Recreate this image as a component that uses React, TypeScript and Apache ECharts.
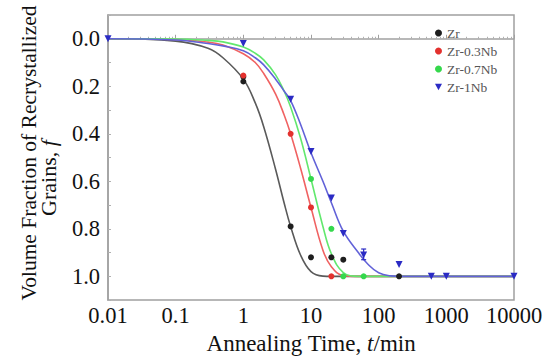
import React, { useEffect, useRef } from "react";
import * as echarts from "echarts";

const seriesNames = ["Zr", "Zr-0.3Nb", "Zr-0.7Nb", "Zr-1Nb"];
const xTickLabels = ["0.01", "0.1", "1", "10", "100", "1000", "10000"];
const yTitleLine1 = "Volume Fraction of Recrystallized";
const yTitleLine2 = "Grains, {i|f}";
const xTitle = "Annealing Time, {i|t}/min";

// measured points [t (min), f]
const zrPoints = [[1, 0.16], [1, 0.18], [5, 0.79], [10, 0.92], [20, 0.92], [30, 0.93], [200, 1.0]];
const nb03Points = [[1, 0.155], [5, 0.4], [10, 0.71], [20, 1.0]];
const nb07Points = [[10, 0.59], [20, 0.8], [30, 1.0], [60, 1.0]];
const nb1Points = [[0.01, 0], [1, 0.02], [5, 0.255], [10, 0.475], [20, 0.67], [30, 0.82], [60, 0.91], [200, 0.95], [600, 1.0], [1000, 1.0], [10000, 1.0]];
const nb1Errors = [[60, 0.885, 0.93]];

// fitted curves
const curveT = [0.01, 0.1, 0.3, 0.5, 1, 1.5, 2, 3, 4, 5, 7, 10, 15, 20, 30, 50, 70, 100, 150, 200, 1000, 10000];
const zrCurve = [0, 0.01, 0.04, 0.08, 0.17, 0.27, 0.37, 0.55, 0.69, 0.79, 0.91, 0.98, 0.999, 1, 1, 1, 1, 1, 1, 1, 1, 1];
const nb03Curve = [0, 0.003, 0.014, 0.026, 0.063, 0.1, 0.146, 0.233, 0.32, 0.4, 0.544, 0.71, 0.89, 0.96, 0.997, 1, 1, 1, 1, 1, 1, 1];
const nb07Curve = [0, 0.001, 0.007, 0.013, 0.035, 0.061, 0.089, 0.152, 0.22, 0.287, 0.418, 0.59, 0.79, 0.905, 0.984, 1, 1, 1, 1, 1, 1, 1];
const nb1Curve = [0, 0.005, 0.02, 0.03, 0.05, 0.08, 0.11, 0.17, 0.22, 0.26, 0.36, 0.48, 0.6, 0.69, 0.81, 0.9, 0.95, 0.985, 0.998, 1, 1, 1];

const pointColors = ["#1e1e1e", "#e3312e", "#35d84c", "#2b2bc4"];
const curveColors = ["#5a5a5a", "#f06262", "#62e86e", "#6262d8"];
const downTriangle = "path://M0,0 L10,0 L5,9 Z";

const FONT = "Liberation Serif";
const italicRich = { i: { fontFamily: FONT, fontSize: 23, fontStyle: "italic", fill: "#111", color: "#111" } };

export default function App() {
  const ref = useRef<HTMLDivElement>(null);
  useEffect(() => {
    if (!ref.current) return;
    const chart = echarts.init(ref.current, null, { renderer: "svg" });
    const points = [zrPoints, nb03Points, nb07Points, nb1Points];
    const curves = [zrCurve, nb03Curve, nb07Curve, nb1Curve];
    const lineSeries = curves.map((c, i) => ({
      type: "line",
      name: seriesNames[i] + " fit",
      data: curveT.map((t, j) => [t, c[j]]),
      showSymbol: false,
      smooth: 0.4,
      lineStyle: { color: curveColors[i], width: 1.6 },
      itemStyle: { color: curveColors[i] },
      z: 2,
      silent: true,
    }));
    const scatterSeries = points.map((p, i) => ({
      type: "scatter",
      name: seriesNames[i],
      data: p,
      symbol: i === 3 ? downTriangle : "circle",
      symbolSize: i === 3 ? 7 : 6,
      itemStyle: { color: pointColors[i], opacity: 1 },
      z: 3,
    }));
    const errSeries = {
      type: "custom",
      name: "err",
      data: nb1Errors,
      z: 4,
      renderItem: (params: any, api: any) => {
        const x = api.value(0);
        const p1 = api.coord([x, api.value(1)]);
        const p2 = api.coord([x, api.value(2)]);
        const st = { stroke: pointColors[3], lineWidth: 1.2 };
        return {
          type: "group",
          children: [
            { type: "line", shape: { x1: p1[0], y1: p1[1], x2: p2[0], y2: p2[1] }, style: st },
            { type: "line", shape: { x1: p1[0] - 2.5, y1: p1[1], x2: p1[0] + 2.5, y2: p1[1] }, style: st },
            { type: "line", shape: { x1: p2[0] - 2.5, y1: p2[1], x2: p2[0] + 2.5, y2: p2[1] }, style: st },
          ],
        };
      },
    };
    chart.setOption({
      animation: false,
      backgroundColor: "#ffffff",
      textStyle: { fontFamily: FONT },
      grid: {
        left: 108, right: 44, top: 15, bottom: 56,
        show: true, borderColor: "#a0a0a0", borderWidth: 1.5, backgroundColor: "transparent",
      },
      graphic: [
        {
          type: "text",
          x: 29,
          y: 153,
          rotation: Math.PI / 2,
          style: {
            text: yTitleLine1,
            fontFamily: FONT,
            fontSize: 21.5,
            fill: "#111",
            align: "center",
            verticalAlign: "middle",
          },
        },
        {
          type: "text",
          x: 48,
          y: 178,
          rotation: Math.PI / 2,
          style: {
            text: yTitleLine2,
            fontFamily: FONT,
            fontSize: 22,
            fill: "#111",
            align: "center",
            verticalAlign: "middle",
            rich: { i: { fontFamily: FONT, fontSize: 22, fontStyle: "italic", fill: "#111" } },
          },
        },
      ],
      legend: {
        data: seriesNames.map((n, i) => ({ name: n, icon: i === 3 ? downTriangle : "circle" })),
        orient: "vertical",
        left: 430,
        top: 21,
        itemWidth: 7,
        itemHeight: 7,
        itemGap: 4,
        textStyle: { fontFamily: FONT, fontSize: 13.5, color: "#555" },
      },
      xAxis: {
        type: "log",
        logBase: 10,
        min: 0.01,
        max: 10000,
        name: xTitle,
        nameLocation: "middle",
        nameGap: 25,
        nameTextStyle: {
          fontFamily: FONT, fontSize: 23, color: "#111",
          rich: italicRich,
        },
        axisLine: { lineStyle: { color: "#a0a0a0", width: 1.5 } },
        axisTick: { inside: true, length: 4, lineStyle: { color: "#a0a0a0" } },
        minorTick: { show: true, splitNumber: 9, length: 2, lineStyle: { color: "#b0b0b0" } },
        splitLine: { show: false },
        axisLabel: {
          fontFamily: FONT, fontSize: 22.5, color: "#111", margin: 4,
          formatter: (v: number) => xTickLabels[Math.round(Math.log10(v)) + 2] ?? "",
        },
      },
      yAxis: {
        type: "value",
        inverse: true,
        min: -0.1,
        max: 1.1,
        interval: 0.1,
        axisLine: { show: true, lineStyle: { color: "#a0a0a0", width: 1.5 } },
        axisTick: { inside: true, length: 3, lineStyle: { color: "#b0b0b0" } },
        splitLine: { show: false },
        axisLabel: {
          fontFamily: FONT, fontSize: 22.5, color: "#111", margin: 8,
          formatter: (v: number) => {
            const k = Math.round(v * 10);
            return k >= 0 && k <= 10 && k % 2 === 0 ? (k / 10).toFixed(1) : "";
          },
        },
      },
      series: [...lineSeries, ...scatterSeries, errSeries],
    });
    return () => chart.dispose();
  }, []);
  return <div ref={ref} style={{ position: "fixed", left: 0, top: 0, width: 558, height: 360 }} />;
}
